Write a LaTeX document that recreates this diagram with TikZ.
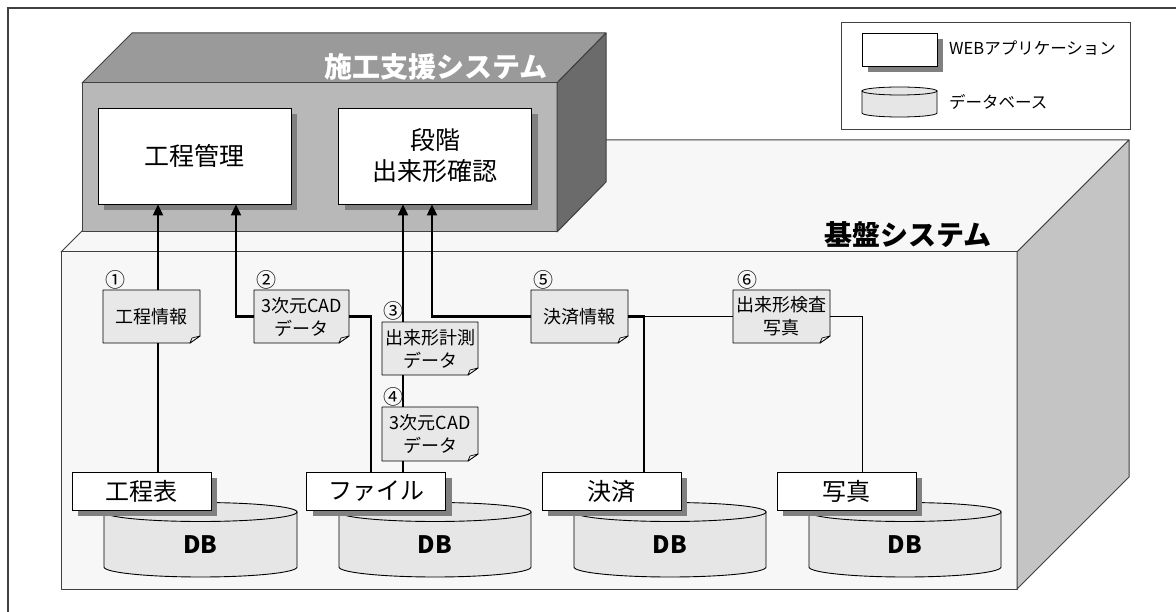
\documentclass[tikz,border=0pt]{standalone}
\usepackage{fontspec}
\setmainfont{Noto Sans CJK JP}
\usetikzlibrary{arrows.meta,shadows}
\definecolor{frm}{HTML}{404040}
\definecolor{upTop}{HTML}{9A9A9A}
\definecolor{upFront}{HTML}{B8B8B8}
\definecolor{upRight}{HTML}{6B6B6B}
\definecolor{lowFace}{HTML}{F7F7F7}
\definecolor{lowRight}{HTML}{C4C4C4}
\definecolor{noteFill}{HTML}{E8E8E8}
\definecolor{dbFill}{HTML}{E6E6E6}
\definecolor{shadowGray}{HTML}{808080}
\tikzset{
  faceline/.style={draw=frm, line width=1pt, line join=round},
  webbox/.style={draw=black, line width=0.9pt, fill=white, inner sep=0pt, align=center,
    drop shadow={shadow xshift=6pt, shadow yshift=-6pt, fill=shadowGray, opacity=1}},
  notetext/.style={inner sep=0pt, align=center, font=\fontsize{18}{23}\selectfont},
  notestyle/.style={fill=noteFill, draw=black, line width=0.9pt, line join=round},
  foldstyle/.style={fill=white!95!black, draw=black, line width=0.7pt, line join=round},
  num/.style={inner sep=0pt, font=\fontsize{20}{20}\selectfont},
  thickln/.style={line width=2.2pt, black},
  thinln/.style={line width=1pt, black},
  arr/.style={-{Triangle[width=10pt,length=11pt]}},
  dbtxt/.style={inner sep=0pt, font=\fontsize{24}{24}\selectfont\bfseries},
  lbl/.style={font=\fontsize{24}{24}\selectfont},
}
\newcommand\docnote[6]{%
  \filldraw[notestyle] (#2,#3) -- (#4,#3) -- (#4,#5-7) -- (#4-10,#5) -- (#2,#5) -- cycle;
  \filldraw[foldstyle] (#4,#5-7) -- (#4-8,#5-5) -- (#4-10,#5) -- cycle;
  \node[notetext, minimum width={(#4-#2)*1pt}, minimum height={(#5-#3)*1pt}] (#1) at ({(#2+#4)/2},{(#3+#5)/2}) {#6};
}
\newcommand\dbcyl[4]{% name, left, right, label
  \filldraw[fill=dbFill, draw=black, line width=0.9pt] (#2,512) -- (#2,567)
    arc[start angle=180, end angle=360, x radius={(#3-#2)/2*1pt}, y radius=10pt] -- (#3,512) -- cycle;
  \filldraw[fill=dbFill, draw=black, line width=0.9pt] ({(#2+#3)/2},512) ellipse [x radius={(#3-#2)/2*1pt}, y radius=9.5pt];
  \node[dbtxt] (#1) at ({(#2+#3)/2},545) {#4};
}
\begin{document}
\begin{tikzpicture}[x=1pt,y=-1pt]
\useasboundingbox (0,0) rectangle (1176,612);
\fill[white] (0,0) rectangle (1176,612);
% outer frame
\draw[frm, line width=1.5pt] (8,612) -- (8,8) -- (1176,8);

% lower box (base system)
\filldraw[faceline, fill=lowFace] (61,252) -- (173,140) -- (1129,140) -- (1017,252) -- cycle;
\filldraw[faceline, fill=lowFace] (61,252) rectangle (1017,589);
\filldraw[faceline, fill=lowRight] (1017,252) -- (1129,140) -- (1129,477) -- (1017,589) -- cycle;
\node[font=\fontsize{28}{28}\selectfont\bfseries, inner sep=0pt] (kiban) at (908,235) {基盤システム};

% upper box (construction support system)
\filldraw[faceline, fill=upTop] (82,83) -- (132,33) -- (606,33) -- (557,83) -- cycle;
\filldraw[faceline, fill=upFront] (82,83) rectangle (557,232);
\filldraw[faceline, fill=upRight] (557,83) -- (606,33) -- (606,182) -- (557,232) -- cycle;
\node[font=\fontsize{28}{28}\selectfont\bfseries, text=white, inner sep=0pt] (sekou) at (436,67) {施工支援システム};

\node[webbox, minimum width=193pt, minimum height=96pt, font=\fontsize{25}{31}\selectfont] (kanri) at (194.5,156) {工程管理};
\node[webbox, minimum width=193pt, minimum height=96pt, font=\fontsize{25}{31}\selectfont] (dankai) at (435,156) {段階\\出来形確認};

% legend
\node[draw=frm, line width=1pt, fill=white, minimum width=289pt, minimum height=107pt, inner sep=0pt] (legend) at (985.5,76.5) {};
\node[webbox, minimum width=75pt, minimum height=33pt] (legweb) at (899.5,49.5) {};
\filldraw[fill=dbFill, draw=black, line width=0.8pt] (862,91) -- (862,113)
  arc[start angle=180, end angle=360, x radius=37.5pt, y radius=4pt] -- (937,91) -- cycle;
\filldraw[fill=dbFill, draw=black, line width=0.8pt] (899.5,91) ellipse [x radius=37.5pt, y radius=4pt];
\node[anchor=west, inner sep=0pt, font=\fontsize{16.5}{16.5}\selectfont] (legt1) at (949,48) {WEBアプリケーション};
\node[anchor=west, inner sep=0pt, font=\fontsize{16.5}{16.5}\selectfont] (legt2) at (949,102) {データベース};

% databases
\dbcyl{db1}{104}{297}{DB}
\dbcyl{db2}{339}{531}{DB}
\dbcyl{db3}{574}{766}{DB}
\dbcyl{db4}{809}{1001}{DB}
\node[webbox, lbl, minimum width=139pt, minimum height=38pt] (hyo) at (141.5,491) {工程表};
\node[webbox, lbl, minimum width=139pt, minimum height=38pt] (file) at (376,491) {ファイル};
\node[webbox, lbl, minimum width=139pt, minimum height=38pt] (kessai) at (611.5,491) {決済};
\node[webbox, lbl, minimum width=139pt, minimum height=38pt] (shashin) at (846.5,491) {写真};

% notes
\docnote{n1}{103}{290}{200}{343}{工程情報}
\docnote{n2}{254}{290}{349}{343}{3次元CAD\\データ}
\docnote{n3}{382}{322}{478}{375}{出来形計測\\データ}
\docnote{n4}{382}{407}{478}{461}{3次元CAD\\データ}
\docnote{n5}{531}{290}{628}{343}{決済情報}
\docnote{n6}{733}{290}{830}{343}{出来形検査\\写真}
\node[num] (c1) at (115,280) {①};
\node[num] (c2) at (266,280) {②};
\node[num] (c3) at (393,311) {③};
\node[num] (c4) at (393,397) {④};
\node[num] (c5) at (543,280) {⑤};
\node[num] (c6) at (747,280) {⑥};

% connector x positions
\coordinate (xa) at (158,0);
\coordinate (xb) at (236,0);
\coordinate (xc) at (371,0);
\coordinate (xd) at (403,0);
\coordinate (xe) at (432,0);
\coordinate (xf) at (644,0);
\coordinate (xg) at (862,0);

% connectors
\draw[thickln] (hyo.north -| xa) -- (n1.south -| xa);
\draw[thickln, arr] (n1.north -| xa) -- (kanri.south -| xa);
\draw[thickln, arr] (n2.west) -| (kanri.south -| xb);
\draw[thickln] (n2.east) -| (file.north -| xc);
\draw[thickln, arr] (n3.north -| xd) -- (dankai.south -| xd);
\draw[thickln] (n3.south -| xd) -- (n4.north -| xd);
\draw[thickln] (n4.south -| xd) -- (file.north -| xd);
\draw[thickln, arr] (n5.west) -| (dankai.south -| xe);
\draw[thinln] (n5.east) -- (n6.west);
\draw[thickln] (n5.east) -| (kessai.north -| xf);
\draw[thinln] (n6.east) -| (shashin.north -| xg);
\end{tikzpicture}
\end{document}
